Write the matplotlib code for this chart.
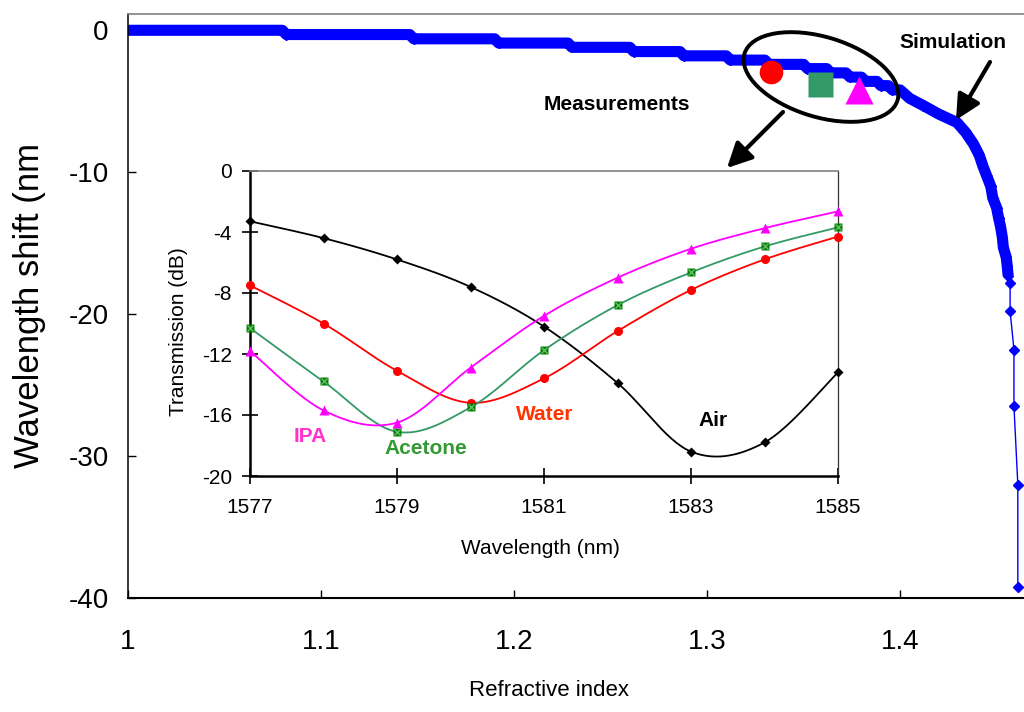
import numpy as np
import matplotlib
matplotlib.use("Agg")
import matplotlib.pyplot as plt
from matplotlib.patches import Ellipse, FancyArrowPatch

plt.rcParams['font.family'] = ['Liberation Sans', 'DejaVu Sans']
plt.rcParams['axes.unicode_minus'] = False

# simulated wavelength shift vs refractive index (quantised staircase + steep tail)
sim_n = [1.000, 1.080, 1.082, 1.146, 1.148, 1.190, 1.192, 1.228, 1.230, 1.260,
         1.262, 1.286, 1.288, 1.310, 1.312, 1.330, 1.332, 1.350, 1.352, 1.362,
         1.364, 1.372, 1.374, 1.380, 1.382, 1.388, 1.390, 1.394, 1.396, 1.400,
         1.405, 1.412, 1.420, 1.4295, 1.434, 1.438, 1.441, 1.443, 1.445, 1.447,
         1.448, 1.450, 1.451, 1.452, 1.453, 1.4535, 1.455, 1.4555, 1.456]
sim_shift = [0, 0, -0.3, -0.3, -0.6, -0.6, -0.9, -0.9, -1.2, -1.2,
             -1.5, -1.5, -1.8, -1.8, -2.1, -2.1, -2.4, -2.4, -2.7, -2.7,
             -3.0, -3.0, -3.3, -3.3, -3.6, -3.6, -3.9, -3.9, -4.2, -4.2,
             -4.8, -5.3, -5.9, -6.5, -7.2, -8.0, -8.8, -9.6, -10.3, -11.0,
             -11.8, -12.5, -13.2, -13.8, -14.6, -15.3, -16.0, -16.6, -17.3]
tail_n = [1.456, 1.457, 1.457, 1.459, 1.459, 1.461, 1.461]
tail_shift = [-17.3, -17.8, -19.8, -22.5, -26.5, -32.0, -39.2]

# measured dips: water, acetone, IPA
meas_n = [1.3332, 1.3585, 1.3788]
meas_shift = [-2.96, -3.80, -4.23]

# transmission spectra (inset)
wl = [1577, 1578, 1579, 1580, 1581, 1582, 1583, 1584, 1585]
t_air = [-3.3, -4.4, -5.8, -7.6, -10.2, -13.9, -18.4, -17.8, -13.2]
t_water = [-7.5, -10.0, -13.1, -15.2, -13.6, -10.5, -7.8, -5.8, -4.3]
t_acetone = [-10.3, -13.8, -17.1, -15.5, -11.75, -8.8, -6.65, -4.95, -3.7]
t_ipa = [-11.8, -15.7, -16.5, -12.9, -9.5, -7.0, -5.1, -3.75, -2.65]


def smooth(x, y, n=30):
    # Catmull-Rom curve through the points, like a spreadsheet "smoothed line"
    x = np.asarray(x, float)
    y = np.asarray(y, float)
    px = np.concatenate([[x[0]], x, [x[-1]]])
    py = np.concatenate([[y[0]], y, [y[-1]]])
    t = np.linspace(0, 1, n, endpoint=False)
    xs, ys = [], []
    for i in range(1, len(px) - 2):
        for p, out in ((px, xs), (py, ys)):
            p0, p1, p2, p3 = p[i - 1], p[i], p[i + 1], p[i + 2]
            out.append(0.5 * (2 * p1 + (-p0 + p2) * t
                              + (2 * p0 - 5 * p1 + 4 * p2 - p3) * t ** 2
                              + (-p0 + 3 * p1 - 3 * p2 + p3) * t ** 3))
    xs.append([x[-1]])
    ys.append([y[-1]])
    return np.concatenate(xs), np.concatenate(ys)


def P(x, y):
    # pixel position (from top-left) -> inches for dpi_scale_trans
    return (x / 100.0, (712 - y) / 100.0)


def F(x, y):
    # pixel position (from top-left) -> figure fraction
    return (x / 1024.0, 1 - y / 712.0)


fig = plt.figure(figsize=(10.24, 7.12), dpi=100)

ax = fig.add_axes([0.125, 0.160, 0.875, 0.820])
ax.plot(sim_n, sim_shift, '-', color='blue', lw=8, solid_capstyle='butt', zorder=2)
ax.plot(sim_n, sim_shift, 'D', color='blue', ms=5.6, zorder=2)
ax.plot(tail_n, tail_shift, '-', color='blue', lw=1, zorder=2)
ax.plot(tail_n[1:], tail_shift[1:], 'D', color='blue', ms=5.6, zorder=2)

ax.plot(meas_n[0], meas_shift[0], 'o', color='red', ms=17, mec='none', zorder=3)
ax.plot(meas_n[1], meas_shift[1], 's', color='#339966', ms=18, mec='none', zorder=3)
ax.plot(meas_n[2], meas_shift[2], '^', color='#FF00FF', ms=20, mec='none', zorder=3)

ax.set_xlim(1.0, 1.4642)
ax.set_ylim(-40, 1.13)
ax.set_xticks([1.0, 1.1, 1.2, 1.3, 1.4])
ax.set_xticklabels(['1', '1.1', '1.2', '1.3', '1.4'])
ax.set_yticks([0, -10, -20, -30, -40])
ax.tick_params(direction='in', length=6, width=1, labelsize=20)
ax.tick_params(axis='x', pad=22)
ax.tick_params(axis='y', pad=14)
ax.spines['right'].set_visible(False)
ax.spines['top'].set_color('#808080')
ax.spines['top'].set_linewidth(1.2)
ax.spines['left'].set_linewidth(1.1)
ax.spines['bottom'].set_linewidth(1.5)

fig.text(*F(30, 305), 'Wavelength shift (nm', rotation=90,
         ha='center', va='center', fontsize=25)
fig.text(*F(549, 690), 'Refractive index', ha='center', va='center', fontsize=16)

# inset with the measured spectra
axin = fig.add_axes([250 / 1024, (712 - 476) / 712, 588 / 1024, 305 / 712])
for x, y, c, lc, mk, ms in [(wl, t_air, 'black', 'black', 'D', 4.6),
                            (wl, t_water, 'red', 'red', 'o', 6.5),
                            (wl, t_acetone, '#008000', '#339966', 's', 6),
                            (wl, t_ipa, '#FF00FF', '#FF00FF', '^', 7)]:
    sx, sy = smooth(x, y)
    axin.plot(sx, sy, '-', color=lc, lw=1.3, clip_on=False)
    axin.plot(x, y, mk, color=c, ms=ms, mec='none', clip_on=False, zorder=3)
axin.plot(wl, t_acetone, 'x', color='#66BB66', ms=4.5, mew=1, clip_on=False, zorder=4)

axin.set_xlim(1577, 1585)
axin.set_ylim(-20, 0)
axin.set_xticks([1577, 1579, 1581, 1583, 1585])
axin.set_yticks([0, -4, -8, -12, -16, -20])
axin.tick_params(direction='inout', length=12, width=1.2, labelsize=15)
axin.tick_params(axis='x', pad=10)
axin.tick_params(axis='y', pad=7)
axin.spines['left'].set_linewidth(1.8)
axin.spines['bottom'].set_linewidth(1.8)
axin.spines['top'].set_color('#808080')
axin.spines['top'].set_linewidth(1.2)
axin.spines['right'].set_color('#333333')
axin.spines['right'].set_linewidth(0.9)
fig.text(*F(540, 548), 'Wavelength (nm)', fontsize=15, ha='center', va='center')
fig.text(*F(178, 332), 'Transmission (dB)', fontsize=15, rotation=90,
         ha='center', va='center')

for txt, c, x, y in [('IPA', '#FF33CC', 310, 437), ('Acetone', '#339933', 426, 448),
                     ('Water', '#FF3300', 545, 415), ('Air', 'black', 713, 420)]:
    fig.text(*F(x, y), txt, color=c, fontsize=15, fontweight='bold',
             ha='center', va='center')

fig.text(*F(617, 104), 'Measurements', fontsize=15, fontweight='bold',
         ha='center', va='center')
fig.text(*F(953, 43), 'Simulation', fontsize=15, fontweight='bold',
         ha='center', va='center')

# ellipse round the measured points and the two pointer arrows
fig.add_artist(Ellipse(P(821, 77), 1.60, 0.80, angle=-17, fill=False,
                       lw=2.8, ec='black', transform=fig.dpi_scale_trans))
for a, b in [((783, 112), (727, 168)), ((990, 62), (956, 120))]:
    fig.add_artist(FancyArrowPatch(P(*a), P(*b), transform=fig.dpi_scale_trans,
                                   arrowstyle='-|>,head_length=1.0,head_width=0.5',
                                   mutation_scale=15, lw=3, color='black',
                                   shrinkA=0, shrinkB=0))

fig.savefig('out.png', dpi=100)
